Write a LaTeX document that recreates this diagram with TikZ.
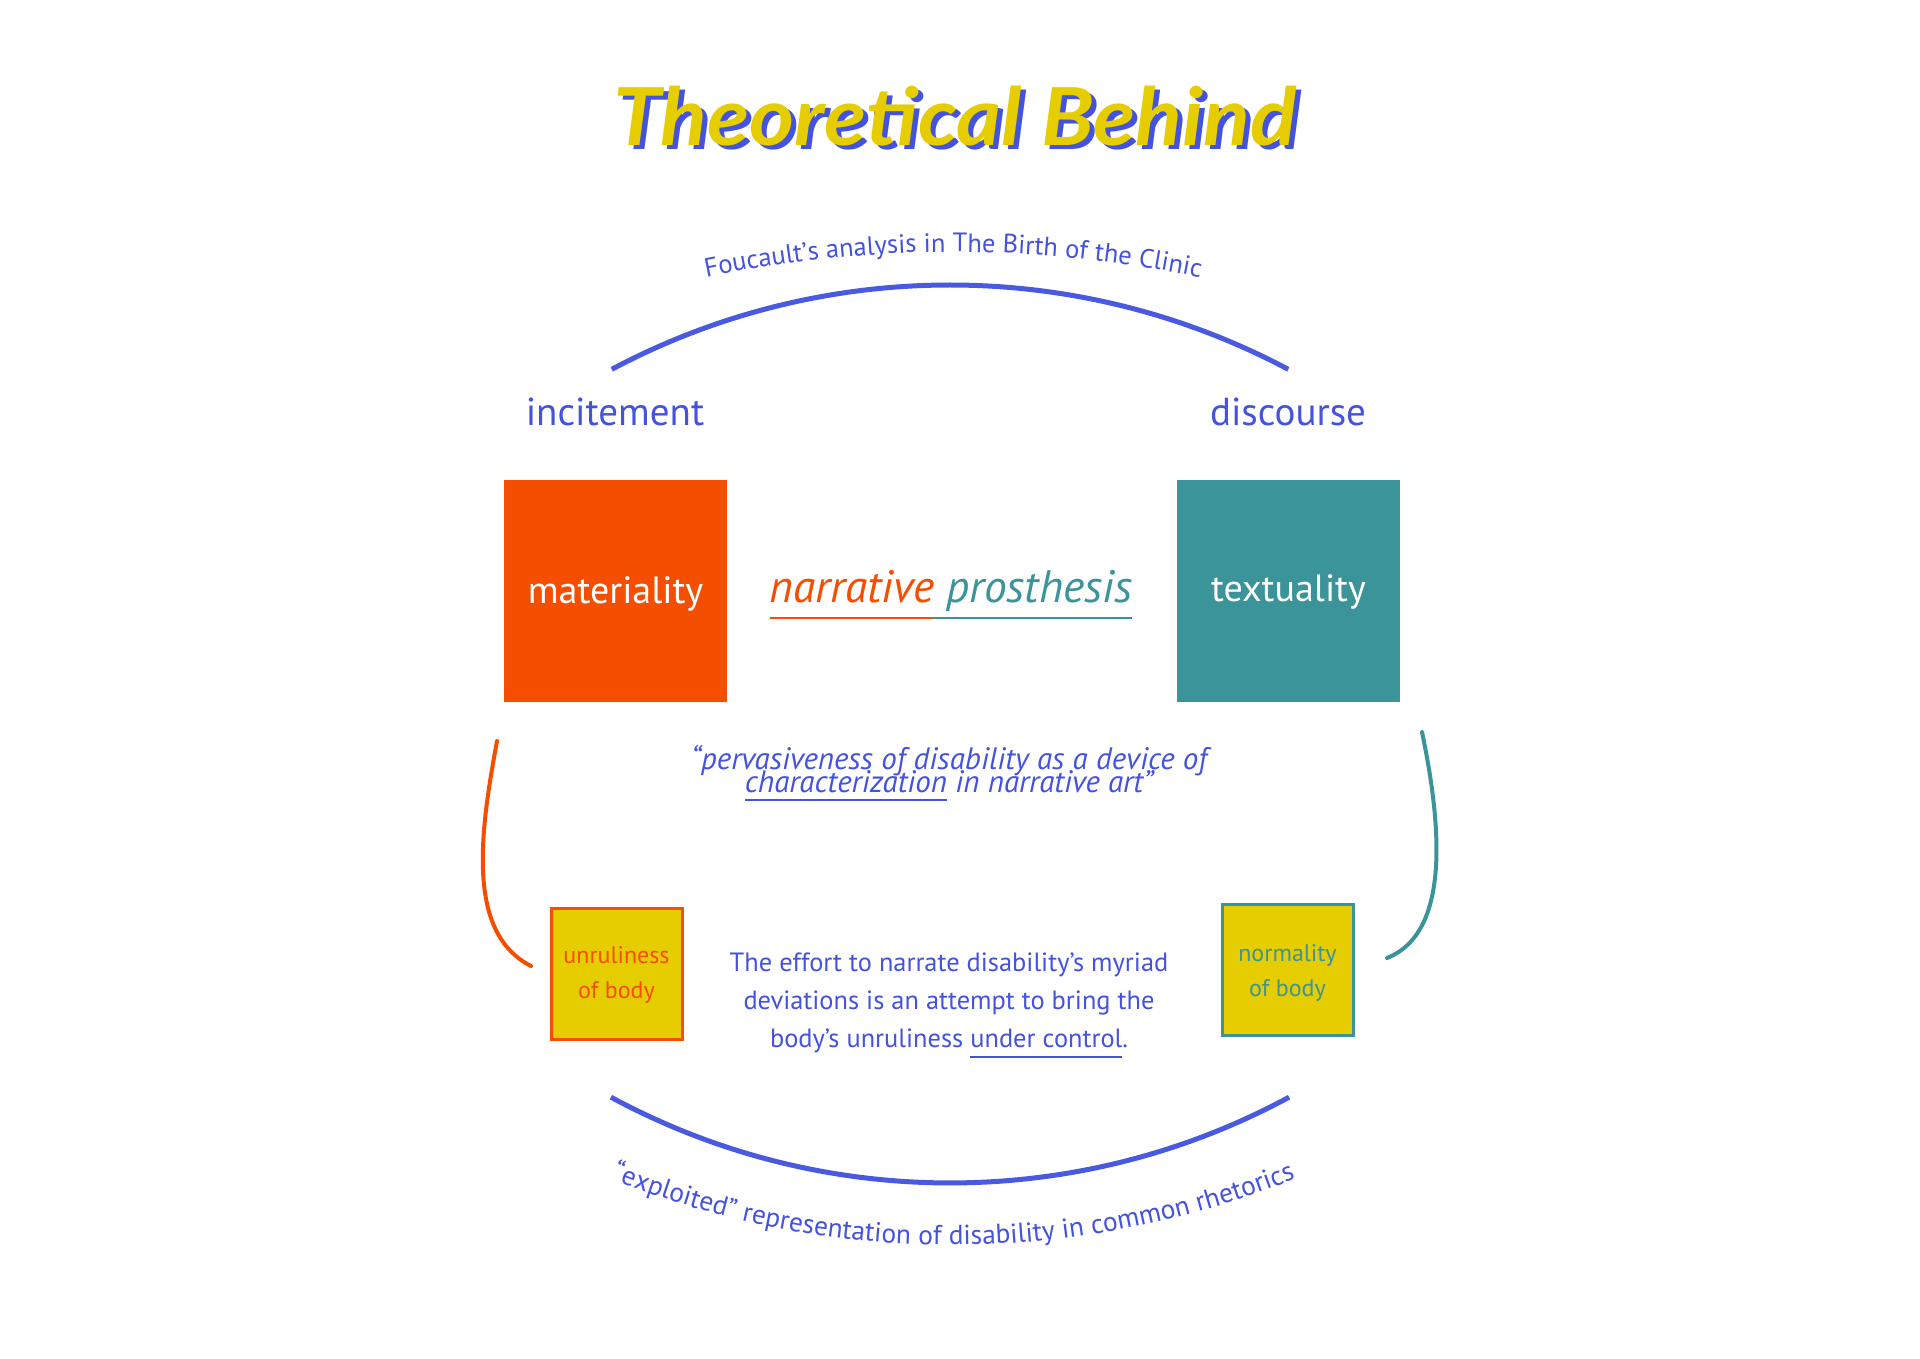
\documentclass[tikz,border=0pt]{standalone}
\usepackage{fontspec}
\setmainfont{PT Sans}
\newfontfamily\titlef{Lato}
\usetikzlibrary{decorations.text}
\definecolor{cOr}{HTML}{F54E00}
\definecolor{cTe}{HTML}{3A9499}
\definecolor{cYe}{HTML}{E6CD00}
\definecolor{cBl}{HTML}{4452E0}
\definecolor{cBlL}{HTML}{4A5AE0}
\newcommand\fs[2]{\fontsize{#1}{#2}\selectfont}
\newcommand\undl[2]{\begingroup\setbox0\hbox{#2}\rlap{\copy0}\raisebox{-#1}{\rule{\wd0}{2pt}}\endgroup}
\tikzset{
  lbl/.style={anchor=base, inner sep=0pt, text=cBl, font=\fs{39}{39}},
  bigbox/.style={minimum width=223pt, minimum height=222pt, inner sep=0pt},
  smallbox/.style={minimum width=131pt, minimum height=131pt, inner sep=0pt, fill=cYe, line width=3pt},
  boxtext/.style={anchor=base, inner sep=0pt, font=\fs{24}{24}},
  paratext/.style={anchor=base, inner sep=0pt, text=cBl, font=\fs{26.4}{26.4}},
  quotetext/.style={anchor=base, inner sep=0pt, text=cBl, font=\fs{31}{31}\itshape},
  arcline/.style={draw=cBlL, line width=5pt},
  sideline/.style={line width=4pt},
  titlefont/.style={font=\titlef\fs{80}{80}\bfseries\itshape, anchor=base, inner sep=0pt, xscale=1.08}
}
\begin{document}
\begin{tikzpicture}[x=1pt,y=1pt]
\fill[white] (0,0) rectangle (1920,1358);
\useasboundingbox (0,0) rectangle (1920,1358);
% title
\node[titlefont, text=cBl] (titleS) at (960,1208) {Theoretical Behind};
\node[titlefont, text=cYe] (title) at (955,1212) {Theoretical Behind};
% centres of arcs
\coordinate (tac) at (950,352.5);
\coordinate (bac) at (950,888);
\coordinate (tlc) at (953,-109);
\coordinate (blc) at (953,1030);
% top arc and label
\draw[arcline] ([shift={(118:720.5)}]tac) arc[start angle=118, end angle=62, radius=720.5];
\path[decorate, decoration={text along path, text align=center, text color=cBl,
  text={|\fs{26.5}{26.5}|Foucault’s analysis in The Birth of the Clinic}}]
  ([shift={(118:1215)}]tlc) arc[start angle=118, end angle=62, radius=1215];
% bottom arc and label
\draw[arcline] ([shift={(241.6:713)}]bac) arc[start angle=241.6, end angle=298.4, radius=713];
\path[decorate, decoration={text along path, text align=center, text color=cBl,
  text={|\fs{27.4}{27.4}|“exploited” representation of disability in common rhetorics}}]
  ([shift={(236:917)}]blc) arc[start angle=236, end angle=304, radius=917];
% labels
\node[lbl] (inc) at (615,932) {incitement};
\node[lbl] (dis) at (1288,932) {discourse};
% big boxes
\node[bigbox, fill=cOr] (mat) at (615.5,767) {};
\node[bigbox, fill=cTe] (tex) at (1288.5,767) {};
\node[lbl, text=white, font=\fs{38}{38}] (matT) at (615.5,754) {materiality};
\node[lbl, text=white, font=\fs{38}{38}] (texT) at (1288.5,756) {textuality};
% narrative prosthesis
\node[anchor=base, inner sep=0pt, font=\fs{45.5}{45.5}\itshape] (np) at (951,755)
  {\color{cOr}\undl{16pt}{narrative}\color{cTe}\undl{16pt}{\ prosthesis}};
% quote
\node[quotetext] (q1) at (949,588) {“pervasiveness of disability as a device of};
\node[quotetext] (q2) at (949,565) {\undl{8pt}{characterization} in narrative art”};
% side curves
\coordinate (ls) at (497,617);
\coordinate (le) at (531,392);
\coordinate (rs) at (1422,626);
\coordinate (re) at (1387,400);
\draw[sideline, draw=cOr, line cap=round] (ls) .. controls (480,525) and (466,425) .. (le);
\draw[sideline, draw=cTe, line cap=round] (rs) .. controls (1442,530) and (1450,425) .. (re);
% small boxes
\node[smallbox, draw=cOr] (unr) at (616.5,383.5) {};
\node[smallbox, draw=cTe] (nor) at (1287.5,387.5) {};
\node[boxtext, text=cOr] (unr1) at (616.5,394) {unruliness};
\node[boxtext, text=cOr] (unr2) at (616.5,359) {of body};
\node[boxtext, text=cTe] (nor1) at (1287.5,396) {normality};
\node[boxtext, text=cTe] (nor2) at (1287.5,361) {of body};
% paragraph
\node[paratext] (p1) at (949,386) {The effort to narrate disability’s myriad};
\node[paratext] (p2) at (949,348) {deviations is an attempt to bring the};
\node[paratext] (p3) at (949,310) {body’s unruliness \undl{10pt}{under control}.};
\end{tikzpicture}
\end{document}
